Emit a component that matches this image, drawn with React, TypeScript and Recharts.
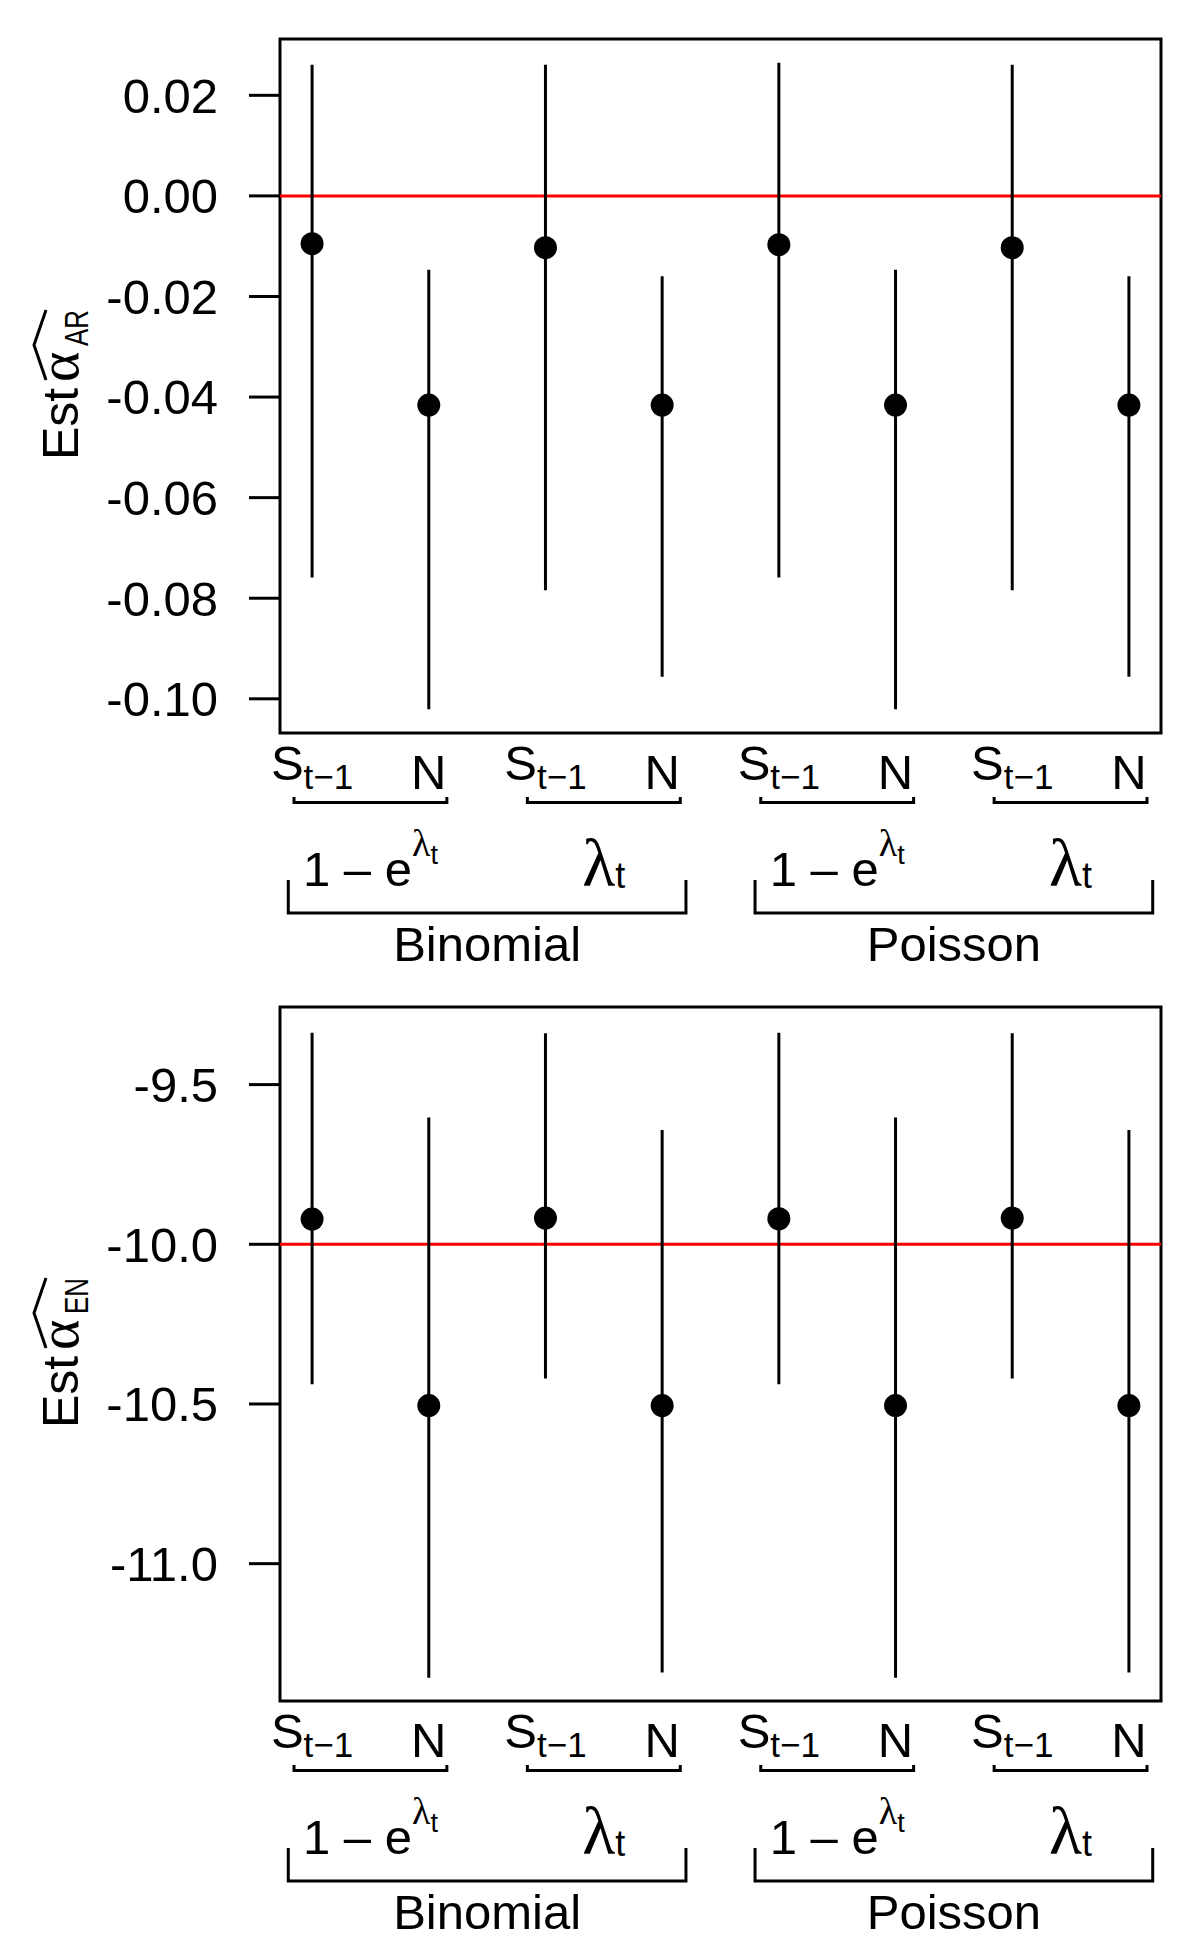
import React from "react";
import {
  ComposedChart,
  Scatter,
  XAxis,
  YAxis,
  ErrorBar,
  ReferenceLine,
  ReferenceArea,
} from "recharts";

// ---------- data ----------
const categoryBase = ["S", "N", "S", "N", "S", "N", "S", "N"];
const categorySub = ["t−1", "", "t−1", "", "t−1", "", "t−1", ""];
const linkLabels = ["1 − e^λt", "λt", "1 − e^λt", "λt"];
const familyLabels = ["Binomial", "Poisson"];

const arMean = [-0.0095, -0.0416, -0.0103, -0.0416, -0.0097, -0.0416, -0.0103, -0.0416];
const arUpper = [0.0261, -0.0147, 0.0261, -0.016, 0.0265, -0.0147, 0.0261, -0.016];
const arLower = [-0.0759, -0.1021, -0.0784, -0.0956, -0.0759, -0.1021, -0.0784, -0.0956];
const arTicks = [0.02, 0, -0.02, -0.04, -0.06, -0.08, -0.1];
const arTrue = 0;
const arDomain = [-0.1068, 0.0312];

const enMean = [-9.921, -10.505, -9.918, -10.505, -9.92, -10.505, -9.918, -10.505];
const enUpper = [-9.338, -9.603, -9.339, -9.642, -9.338, -9.603, -9.339, -9.642];
const enLower = [-10.438, -11.357, -10.42, -11.341, -10.438, -11.357, -10.42, -11.341];
const enTicks = [-9.5, -10, -10.5, -11];
const enTrue = -10;
const enDomain = [-11.43, -9.257];

// ---------- layout ----------
const FONT = "'Liberation Sans', Arial, Helvetica, sans-serif";
const GREEK = "'Liberation Serif', 'Times New Roman', serif";
const W = 1200;
const H = 975;
const YW = 280;
const MR = 39;
const MT = 39;
const MB = 242;
const X_DOMAIN: [number, number] = [0.725, 8.275];
const PX_PER_UNIT = (W - YW - MR) / (X_DOMAIN[1] - X_DOMAIN[0]);
const LW = 3;

const positions = categoryBase.map((_, i) => i + 1);
const pairCenters = linkLabels.map((_, j) => 2 * j + 1.5);
const familyCenters = familyLabels.map((_, k) => 4 * k + 2.5);
const allTicks = [...positions, ...pairCenters, ...familyCenters].sort((a, b) => a - b);

const XTick = (props: any) => {
  const { x, y, payload } = props;
  const v = payload.value;
  const i = positions.indexOf(v);
  if (i >= 0) {
    if (categorySub[i]) {
      return (
        <text x={x} y={y + 46.6} textAnchor="middle" fontSize={49} fontFamily={FONT} fill="#000">
          {categoryBase[i]}
          <tspan fontSize={35} dy={9}>
            {categorySub[i]}
          </tspan>
        </text>
      );
    }
    return (
      <text x={x} y={y + 55.6} textAnchor="middle" fontSize={49} fontFamily={FONT} fill="#000">
        {categoryBase[i]}
      </text>
    );
  }
  const j = pairCenters.indexOf(v);
  if (j >= 0) {
    const hw = 0.655 * PX_PER_UNIT;
    const lab = linkLabels[j];
    const isExp = lab.includes("e^");
    return (
      <g>
        <path
          d={`M ${x - hw},${y + 64} V ${y + 69.5} H ${x + hw} V ${y + 64}`}
          stroke="#000"
          strokeWidth={LW}
          fill="none"
        />
        {isExp ? (
          <text x={x} y={y + 153.4} textAnchor="middle" fontSize={49} fontFamily={FONT} fill="#000">
            {"1 – e"}
            <tspan fontSize={38} dy={-30} fontFamily={GREEK}>
              λ
            </tspan>
            <tspan fontSize={27} dy={8}>
              t
            </tspan>
          </text>
        ) : (
          <text x={x} y={y + 153.4} textAnchor="middle" fontSize={68} fontFamily={GREEK} fill="#000">
            λ
            <tspan fontSize={36} dy={2} fontFamily={FONT}>
              t
            </tspan>
          </text>
        )}
      </g>
    );
  }
  const k = familyCenters.indexOf(v);
  if (k >= 0) {
    const hw = 1.704 * PX_PER_UNIT;
    return (
      <g>
        <path
          d={`M ${x - hw},${y + 147} V ${y + 180} H ${x + hw} V ${y + 147}`}
          stroke="#000"
          strokeWidth={LW}
          fill="none"
        />
        <text x={x} y={y + 228.4} textAnchor="middle" fontSize={49} fontFamily={FONT} fill="#000">
          {familyLabels[k]}
        </text>
      </g>
    );
  }
  return <g />;
};

const YTitle = (props: any) => {
  const vb = props.viewBox || { x: 0, y: MT, width: YW, height: H - MT - MB };
  const x = vb.x + 78;
  const cy = vb.y + vb.height / 2;
  return (
    <g transform={`translate(${x},${cy}) rotate(-90)`}>
      <text x={-74} y={0} fontSize={50} fontFamily={FONT} fill="#000">
        Est
      </text>
      <text x={4} y={0} fontSize={58} fontFamily={GREEK} fill="#000">
        α
      </text>
      <text
        x={40}
        y={10}
        fontSize={33}
        fontFamily={FONT}
        fill="#000"
        textLength={36}
        lengthAdjust="spacingAndGlyphs"
      >
        {props.sub}
      </text>
      <path d="M 6,-32 L 41,-44 L 76,-32" stroke="#000" strokeWidth={LW} fill="none" />
    </g>
  );
};

type PanelProps = {
  mean: number[];
  lower: number[];
  upper: number[];
  ticks: number[];
  domain: number[];
  trueValue: number;
  digits: number;
  sub: string;
};

const Panel = ({ mean, lower, upper, ticks, domain, trueValue, digits, sub }: PanelProps) => {
  const data = mean.map((m, i) => ({
    x: positions[i],
    mean: m,
    err: [m - lower[i], upper[i] - m],
  }));
  return (
    <ComposedChart
      width={W}
      height={H}
      data={data}
      margin={{ top: MT, right: MR, bottom: 0, left: 0 }}
    >
      <XAxis
        xAxisId="main"
        dataKey="x"
        type="number"
        domain={X_DOMAIN}
        ticks={allTicks}
        interval={0}
        height={MB}
        tickSize={0}
        tickMargin={0}
        tickLine={false}
        axisLine={false}
        allowDataOverflow
        tick={(p: any) => <XTick {...p} />}
      />
      <YAxis
        type="number"
        domain={domain}
        ticks={ticks}
        interval={0}
        allowDataOverflow
        width={YW}
        axisLine={false}
        tickSize={31}
        tickMargin={31}
        tickLine={{ stroke: "#000", strokeWidth: LW }}
        tick={{ fontSize: 49, fill: "#000", fontFamily: FONT }}
        tickFormatter={(v: number) => v.toFixed(digits)}
        label={{ content: (p: any) => <YTitle {...p} sub={sub} /> }}
      />
      <ReferenceLine
        xAxisId="main"
        y={trueValue}
        stroke="#FF0000"
        strokeWidth={LW}
        ifOverflow="visible"
      />
      <Scatter
        xAxisId="main"
        dataKey="mean"
        isAnimationActive={false}
        fill="#000"
        shape={(p: any) => <circle cx={p.cx} cy={p.cy} r={11.5} fill="#000" />}
      >
        <ErrorBar dataKey="err" direction="y" width={0} stroke="#000" strokeWidth={LW} />
      </Scatter>
      <ReferenceArea
        xAxisId="main"
        x1={X_DOMAIN[0]}
        x2={X_DOMAIN[1]}
        y1={domain[0]}
        y2={domain[1]}
        fill="none"
        fillOpacity={0}
        stroke="#000"
        strokeWidth={LW}
        ifOverflow="visible"
      />
    </ComposedChart>
  );
};

export default function App() {
  return (
    <div style={{ position: "absolute", left: 0, top: 0, width: 1200, height: 1950, background: "#fff" }}>
      <div style={{ position: "absolute", left: 0, top: 0 }}>
        <Panel
          mean={arMean}
          lower={arLower}
          upper={arUpper}
          ticks={arTicks}
          domain={arDomain}
          trueValue={arTrue}
          digits={2}
          sub="AR"
        />
      </div>
      <div style={{ position: "absolute", left: 0, top: 968 }}>
        <Panel
          mean={enMean}
          lower={enLower}
          upper={enUpper}
          ticks={enTicks}
          domain={enDomain}
          trueValue={enTrue}
          digits={1}
          sub="EN"
        />
      </div>
    </div>
  );
}
